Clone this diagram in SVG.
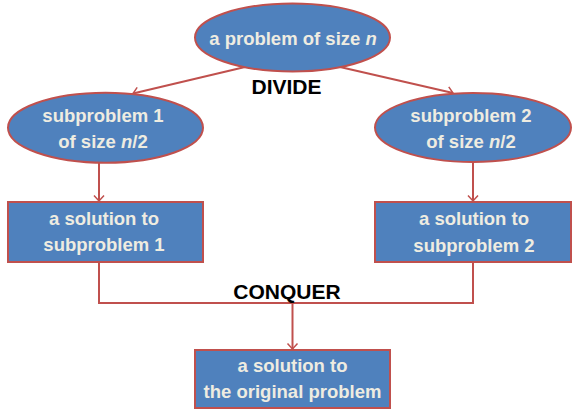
<svg xmlns="http://www.w3.org/2000/svg" width="580" height="416" viewBox="0 0 580 416">
<defs>
<marker id="arr" markerUnits="userSpaceOnUse" markerWidth="14" markerHeight="14" viewBox="-8 -7 10 14" refX="0" refY="0" orient="auto">
<path d="M-5.5,-5 L0,0 L-5.5,5" fill="none" stroke="#C0504D" stroke-width="1.5"/>
</marker>
</defs>
<style>
.node{fill:#4F81BD;stroke:#C0504D;stroke-width:2}
.t{font-family:"Liberation Sans",Arial,sans-serif;font-weight:bold;font-size:18.5px;fill:#EEECE1;text-anchor:middle}
.lbl{font-family:"Liberation Sans",Arial,sans-serif;font-weight:bold;font-size:21px;fill:#000;text-anchor:middle}
.c{fill:none;stroke:#C0504D;stroke-width:2}
</style>
<rect width="580" height="416" fill="#fff"/>
<g id="connectors">
<path class="c" d="M245,67 L133,93.5" marker-end="url(#arr)"/>
<path class="c" d="M340,67 L453,93" marker-end="url(#arr)"/>
<path class="c" d="M99,163 V201" marker-end="url(#arr)"/>
<path class="c" d="M473,162 V201" marker-end="url(#arr)"/>
<path class="c" d="M99,262 V303 H473 V262"/>
<path class="c" d="M292.5,303 V349" marker-end="url(#arr)"/>
</g>
<g id="root">
<ellipse class="node" cx="292.5" cy="37.5" rx="97.5" ry="34"/>
<text class="t" x="293" y="45">a problem of size <tspan font-style="italic">n</tspan></text>
</g>
<g id="divide-label"><text class="lbl" x="286.5" y="94">DIVIDE</text></g>
<g id="sub1">
<ellipse class="node" cx="105.5" cy="127.7" rx="97.5" ry="35"/>
<text class="t" x="103" y="121.7">subproblem 1</text>
<text class="t" x="103" y="148.3">of size <tspan font-style="italic">n</tspan>/2</text>
</g>
<g id="sub2">
<ellipse class="node" cx="473" cy="127.5" rx="98" ry="34.5"/>
<text class="t" x="471" y="121.7">subproblem 2</text>
<text class="t" x="471" y="148.3">of size <tspan font-style="italic">n</tspan>/2</text>
</g>
<g id="sol1">
<rect class="node" x="8" y="202" width="195" height="60"/>
<text class="t" x="104" y="225">a solution to</text>
<text class="t" x="104" y="251">subproblem 1</text>
</g>
<g id="sol2">
<rect class="node" x="375" y="202" width="196" height="60"/>
<text class="t" x="474" y="225">a solution to</text>
<text class="t" x="474" y="251.5">subproblem 2</text>
</g>
<g id="conquer-label"><text class="lbl" x="287" y="298.5">CONQUER</text></g>
<g id="final">
<rect class="node" x="195" y="350" width="195" height="58"/>
<text class="t" x="292.5" y="371.7">a solution to</text>
<text class="t" x="292.5" y="398.3">the original problem</text>
</g>
</svg>
